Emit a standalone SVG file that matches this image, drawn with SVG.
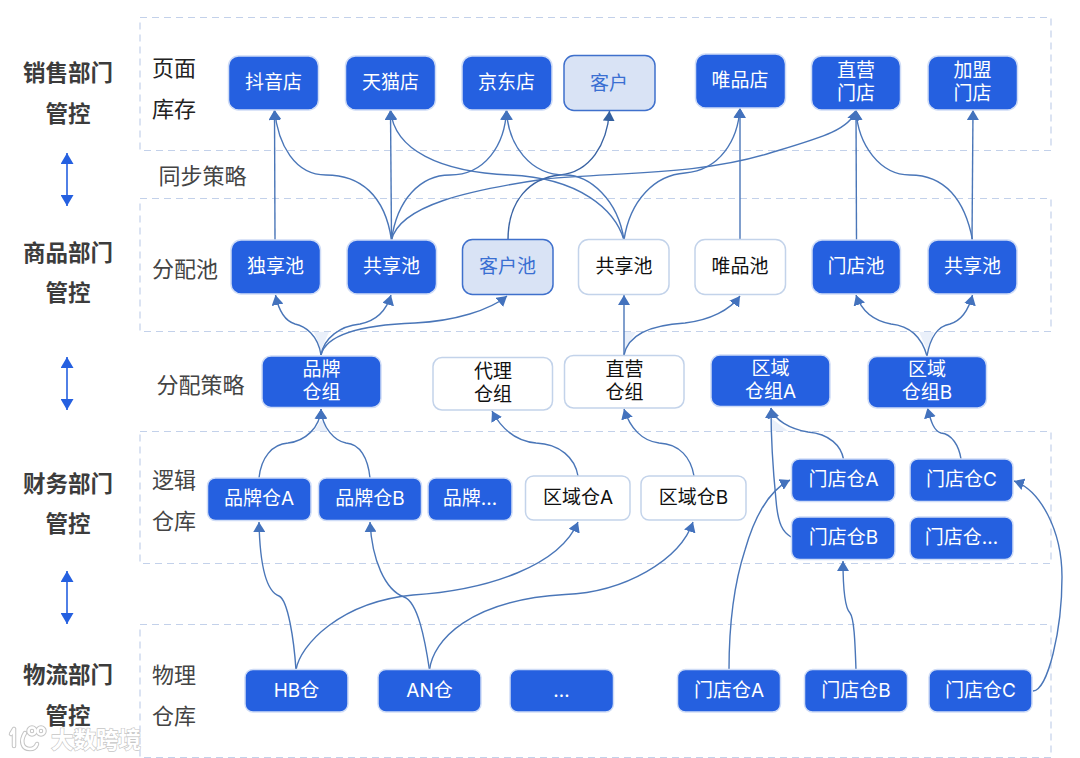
<svg xmlns="http://www.w3.org/2000/svg" width="1080" height="758" viewBox="0 0 1080 758">
<style>
text{font-family:"Noto Sans CJK SC","Noto Sans",sans-serif;text-anchor:middle;dominant-baseline:central}
.panel{fill:#fff;stroke:#c3d1ea;stroke-width:1.2;stroke-dasharray:7 5}
.n rect{stroke-width:1.5}
.n text{font-size:19px;font-family:"Inter","Noto Sans CJK SC",sans-serif}
.blue rect{fill:#2560e0;stroke:#cfdcf6}
.blue text{fill:#fff}
.lite rect{fill:#d9e3f5;stroke:#3f70cc}
.lite text{fill:#3a6fd2}
.wht rect{fill:#fff;stroke:#c3d3ea}
.wht text{fill:#111}
.c{fill:none;stroke:#4a76b8;stroke-width:1.4}
.dk{stroke:#3a63a3}
.hd{font-size:22.5px;font-weight:700;fill:#3c3c3c}
.lb{font-size:22px;fill:#444}
.sw{stroke:#2560e0;stroke-width:1.6;fill:none}
.wm{font-size:22.5px;font-weight:700;fill:#fff;stroke:#c6c6c6;stroke-width:1.3;paint-order:stroke}
</style>
<defs>
<marker id="ah" markerUnits="userSpaceOnUse" markerWidth="12" markerHeight="12" refX="10" refY="6" orient="auto"><path d="M0 0L10 6L0 12Z" fill="#4372bd"/></marker>
<marker id="ahd" markerUnits="userSpaceOnUse" markerWidth="12" markerHeight="12" refX="10" refY="6" orient="auto"><path d="M0 0L10 6L0 12Z" fill="#34609f"/></marker>
<marker id="sw" markerUnits="userSpaceOnUse" markerWidth="12" markerHeight="13" refX="11" refY="6.5" orient="auto-start-reverse"><path d="M0 0L11 6.5L0 13Z" fill="#2560e0"/></marker>
</defs>
<rect width="1080" height="758" fill="#fff"/>
<g id="panels">
<rect class="panel" x="140" y="17.500" width="911" height="133"/>
<rect class="panel" x="140" y="198.500" width="911" height="133"/>
<rect class="panel" x="140" y="431.500" width="911" height="132"/>
<rect class="panel" x="140" y="624.500" width="911" height="133"/>
<g fill="#eaf0fa"><path d="M314 332H329L321 350Z"/><path d="M624 332H636L624 350Z"/><path d="M919 332H934L927 350Z"/><path d="M314 431H329L321 420Z"/><path d="M771 431H788L771 418Z"/></g>
</g>
<g id="labels">
<text class="hd" x="68" y="71">销售部门</text><text class="hd" x="68" y="112">管控</text>
<text class="hd" x="68" y="251">商品部门</text><text class="hd" x="68" y="291">管控</text>
<text class="hd" x="68" y="482">财务部门</text><text class="hd" x="68" y="522">管控</text>
<text class="hd" x="68" y="673">物流部门</text><text class="hd" x="68" y="714">管控</text>
<text class="lb" x="174" y="66" style="fill:#222">页面</text><text class="lb" x="174" y="107" style="fill:#222">库存</text>
<text class="lb" x="202.500" y="174">同步策略</text>
<text class="lb" x="185" y="267">分配池</text>
<text class="lb" x="200.500" y="383">分配策略</text>
<text class="lb" x="174" y="478">逻辑</text><text class="lb" x="174" y="519">仓库</text>
<text class="lb" x="174" y="673">物理</text><text class="lb" x="174" y="714">仓库</text>
</g>
<g id="swimarrows">
<path class="sw" d="M67 153V206" marker-start="url(#sw)" marker-end="url(#sw)"/>
<path class="sw" d="M67 357V410" marker-start="url(#sw)" marker-end="url(#sw)"/>
<path class="sw" d="M67 571V624" marker-start="url(#sw)" marker-end="url(#sw)"/>
</g>
<g id="connectors">
<path class="c" marker-end="url(#ah)" d="M275 240L274.500 110"/>
<path class="c" marker-end="url(#ah)" d="M391.500 240C385 195 360 175 326 175C295 175 278 145 274.500 110"/>
<path class="c" marker-end="url(#ah)" d="M391.500 240L390.500 110"/>
<path class="c" marker-end="url(#ah)" d="M391.500 240C397 200 420 175 450 175C485 175 505 145 506.500 110"/>
<path class="c" marker-end="url(#ah)" d="M391.500 240C400 205 470 190 545 179C620 172 700 175 770 153C820 138 850 130 856 110"/>
<path class="c dk" marker-end="url(#ahd)" d="M508 240C508 200 530 178 560 175C590 172 607 145 609.500 111"/>
<path class="c" marker-end="url(#ah)" d="M624 240C615 210 580 178 510 175C440 172 394 150 390.500 110"/>
<path class="c" marker-end="url(#ah)" d="M624 240C618 200 590 175 565 175C530 175 508 145 506.500 110"/>
<path class="c" marker-end="url(#ah)" d="M624 240C630 200 655 175 685 173C720 170 738 140 740 108"/>
<path class="c" marker-end="url(#ah)" d="M740 240V108"/>
<path class="c" marker-end="url(#ah)" d="M856.500 240L856 110"/>
<path class="c" marker-end="url(#ah)" d="M972.500 240C965 200 945 175 910 175C880 175 858 145 856 110"/>
<path class="c" marker-end="url(#ah)" d="M972 240L973 110"/>
<path class="c" marker-end="url(#ah)" d="M321 355C318 335 305 326 295 324C285 321 279 312 275.500 295"/>
<path class="c" marker-end="url(#ah)" d="M321 355C324 338 340 326 360 324C375 321 386 312 391 295"/>
<path class="c" marker-end="url(#ah)" d="M321 355C326 335 360 325 415 323C455 321 490 310 507 296"/>
<path class="c" marker-end="url(#ah)" d="M624 355V295"/>
<path class="c" marker-end="url(#ah)" d="M624 355C628 335 650 325 685 323C710 320 730 310 740 296"/>
<path class="c" marker-end="url(#ah)" d="M927 356C922 338 910 326 891 324C875 321 862 312 856 295"/>
<path class="c" marker-end="url(#ah)" d="M927 356C930 338 938 326 950 324C960 321 968 312 972.500 295"/>
<path class="c" marker-end="url(#ah)" d="M259 478C261 458 272 444 288 443C305 441 320 428 321 409"/>
<path class="c" marker-end="url(#ah)" d="M370 478C368 458 360 444 346 443C335 441 322 428 321 409"/>
<path class="c" marker-end="url(#ah)" d="M578 476C575 458 560 444 536 443C515 441 501 428 492 411"/>
<path class="c" marker-end="url(#ah)" d="M694 476C691 458 680 444 659 443C642 441 630 428 624 409"/>
<path class="c" marker-end="url(#ah)" d="M843.500 459C841 446 830 434 808 432C790 429 774 420 771 408"/>
<path class="c" marker-end="url(#ah)" d="M791 537C783 532 778 525 776 500C773 470 771 440 771 408"/>
<path class="c" marker-end="url(#ah)" d="M961 459C959 446 952 434 941 433C934 431 931 422 927.500 408"/>
<path class="c" marker-end="url(#ah)" d="M296 670C294 640 288 600 279 596C268 592 260 570 259 522"/>
<path class="c" marker-end="url(#ah)" d="M296 670C300 645 340 602 413 595C490 590 560 565 578 522"/>
<path class="c" marker-end="url(#ah)" d="M429.500 670C425 640 418 602 404 597C385 590 372 560 370 522"/>
<path class="c" marker-end="url(#ah)" d="M429.500 670C433 640 470 600 565 594.500C625 592 680 560 693 522"/>
<path class="c" marker-end="url(#ah)" d="M729 670C729 630 732 590 745 550C755 515 770 490 790 480"/>
<path class="c" marker-end="url(#ah)" d="M856 670C855 640 854 618 850 613C845 608 843 590 843 561"/>
<path class="c" marker-end="url(#ah)" d="M1033 691C1048 690 1062 630 1062 577C1062 530 1040 490 1014 481"/>
</g>
<g id="n1" class="n blue"><rect x="228.500" y="56" width="90" height="54" rx="10"/><text x="273.500" y="82">抖音店</text></g>
<g id="n2" class="n blue"><rect x="345.500" y="56" width="90" height="54" rx="10"/><text x="390.500" y="82">天猫店</text></g>
<g id="n3" class="n blue"><rect x="462" y="56" width="90" height="54" rx="10"/><text x="506.500" y="82">京东店</text></g>
<g id="n4" class="n lite"><rect x="564" y="55.500" width="91" height="55" rx="10"/><text x="609" y="83">客户</text></g>
<g id="n5" class="n blue"><rect x="695.500" y="54" width="90" height="54" rx="10"/><text x="740" y="80">唯品店</text></g>
<g id="n6" class="n blue"><rect x="811.500" y="56" width="89" height="54" rx="10"/><text y="69.500"><tspan x="856">直营</tspan><tspan x="856" dy="23.500">门店</tspan></text></g>
<g id="n7" class="n blue"><rect x="928" y="56" width="89.500" height="54" rx="10"/><text y="69.500"><tspan x="972.500">加盟</tspan><tspan x="972.500" dy="23.500">门店</tspan></text></g>
<g id="p1" class="n blue"><rect x="231" y="240" width="89.500" height="54" rx="10"/><text x="275.500" y="266">独享池</text></g>
<g id="p2" class="n blue"><rect x="347" y="240" width="89.500" height="54" rx="10"/><text x="391.500" y="266">共享池</text></g>
<g id="p3" class="n lite"><rect x="462.500" y="239.500" width="90.500" height="55" rx="10"/><text x="507.500" y="266">客户池</text></g>
<g id="p4" class="n wht"><rect x="578.500" y="239.500" width="90.500" height="55" rx="10"/><text x="624" y="266">共享池</text></g>
<g id="p5" class="n wht"><rect x="695" y="239.500" width="90.500" height="55" rx="10"/><text x="740" y="266">唯品池</text></g>
<g id="p6" class="n blue"><rect x="812" y="240" width="88.500" height="54" rx="10"/><text x="856" y="266">门店池</text></g>
<g id="p7" class="n blue"><rect x="928" y="240" width="89" height="54" rx="10"/><text x="972.500" y="266">共享池</text></g>
<g id="g1" class="n blue"><rect x="262" y="356" width="119" height="51.500" rx="9"/><text y="369"><tspan x="321.500">品牌</tspan><tspan x="321.500" dy="23">仓组</tspan></text></g>
<g id="g2" class="n wht"><rect x="433" y="357.500" width="119.500" height="52.500" rx="9"/><text y="371"><tspan x="493">代理</tspan><tspan x="493" dy="23">仓组</tspan></text></g>
<g id="g3" class="n wht"><rect x="564.500" y="355.500" width="119.500" height="52.500" rx="9"/><text y="369"><tspan x="624.500">直营</tspan><tspan x="624.500" dy="23">仓组</tspan></text></g>
<g id="g4" class="n blue"><rect x="711" y="355" width="119" height="51.500" rx="9"/><text y="368"><tspan x="770.500">区域</tspan><tspan x="770.500" dy="23">仓组A</tspan></text></g>
<g id="g5" class="n blue"><rect x="868" y="356.500" width="118.500" height="51.500" rx="9"/><text y="369"><tspan x="927">区域</tspan><tspan x="927" dy="23">仓组B</tspan></text></g>
<g id="w1" class="n blue"><rect x="207.500" y="478" width="103.500" height="42.500" rx="8"/><text x="259" y="498">品牌仓A</text></g>
<g id="w2" class="n blue"><rect x="318.500" y="478" width="103" height="42.500" rx="8"/><text x="370" y="498">品牌仓B</text></g>
<g id="w3" class="n blue"><rect x="428" y="478" width="84" height="42.500" rx="8"/><text x="470" y="498">品牌…</text></g>
<g id="w4" class="n wht"><rect x="525.500" y="476" width="104.500" height="44" rx="8"/><text x="578" y="497">区域仓A</text></g>
<g id="w5" class="n wht"><rect x="641" y="476" width="105" height="44" rx="8"/><text x="693.500" y="497">区域仓B</text></g>
<g id="w6" class="n blue"><rect x="791.500" y="459" width="103.500" height="42.500" rx="8"/><text x="843.500" y="479">门店仓A</text></g>
<g id="w7" class="n blue"><rect x="910" y="459" width="103" height="42.500" rx="8"/><text x="961.500" y="479">门店仓C</text></g>
<g id="w8" class="n blue"><rect x="791.500" y="517" width="103.500" height="42.500" rx="8"/><text x="843.500" y="537">门店仓B</text></g>
<g id="w9" class="n blue"><rect x="910" y="517" width="103" height="42.500" rx="8"/><text x="961.500" y="537">门店仓…</text></g>
<g id="s1" class="n blue"><rect x="245" y="669.500" width="103" height="42.500" rx="8"/><text x="296.500" y="690">HB仓</text></g>
<g id="s2" class="n blue"><rect x="378" y="669.500" width="103" height="42.500" rx="8"/><text x="429.500" y="690">AN仓</text></g>
<g id="s3" class="n blue"><rect x="510" y="669.500" width="103.500" height="42.500" rx="8"/><text x="561.500" y="690">…</text></g>
<g id="s4" class="n blue"><rect x="677.500" y="669.500" width="103" height="42.500" rx="8"/><text x="729" y="690">门店仓A</text></g>
<g id="s5" class="n blue"><rect x="804.500" y="669.500" width="103" height="42.500" rx="8"/><text x="856" y="690">门店仓B</text></g>
<g id="s6" class="n blue"><rect x="929" y="669.500" width="103" height="42.500" rx="8"/><text x="980.500" y="690">门店仓C</text></g>
<g id="watermark">
<g fill="none" stroke="#c4c4c4" stroke-width="4.500" stroke-linecap="round"><path d="M14 729L11 734M14 729V746"/><path d="M25 733C20 741 22 749 30 749C34 749 36 747 37 744"/><circle cx="32" cy="731" r="3.500"/><circle cx="41" cy="731" r="3.500"/></g>
<g fill="none" stroke="#fff" stroke-width="2.500" stroke-linecap="round"><path d="M14 729L11 734M14 729V746"/><path d="M25 733C20 741 22 749 30 749C34 749 36 747 37 744"/><circle cx="32" cy="731" r="3.500"/><circle cx="41" cy="731" r="3.500"/></g>
<text class="wm" x="96" y="738">大数跨境</text>
</g>
</svg>
